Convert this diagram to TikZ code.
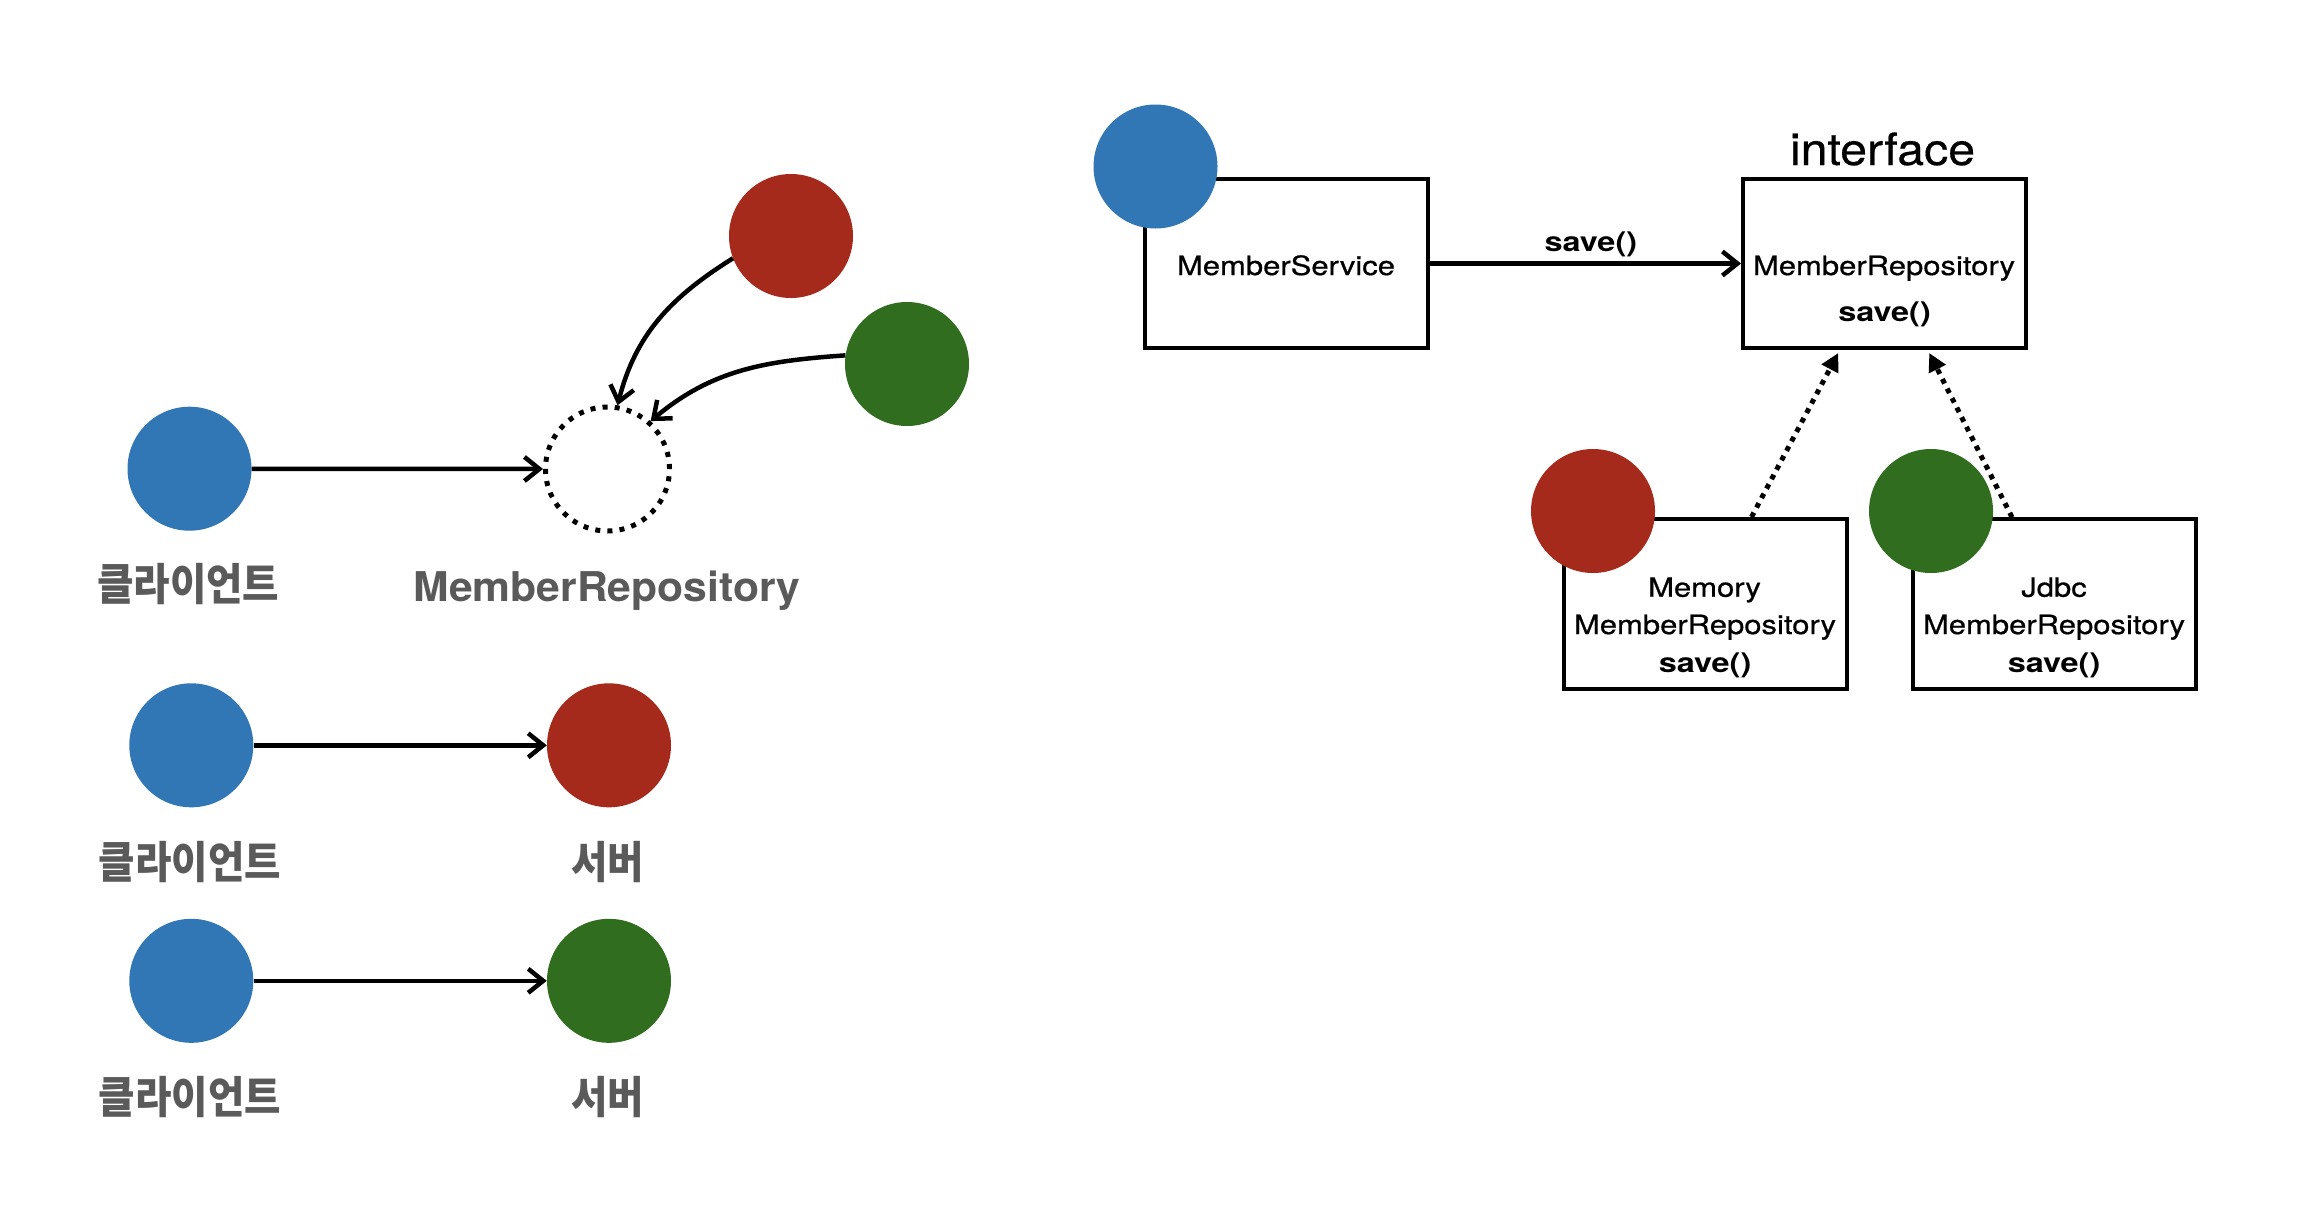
\documentclass[tikz,border=0pt]{standalone}
\usepackage{fontspec}
\setmainfont{TeX Gyre Heros}
\newfontfamily\boxfont[FakeStretch=1.17,FakeBold=0.7]{TeX Gyre Heros}
\newfontfamily\savefont[FakeStretch=1.2]{TeX Gyre Heros}
\newfontfamily\iffont[FakeStretch=1.085,FakeBold=0.4]{TeX Gyre Heros}
\newfontfamily\grayfont[FakeStretch=1.04]{TeX Gyre Heros}
\newfontfamily\cjk{Noto Sans CJK KR}
\usetikzlibrary{arrows.meta,calc}
\definecolor{cblue}{HTML}{3176B5}
\definecolor{cred}{HTML}{A62A1B}
\definecolor{cgreen}{HTML}{316D1F}
\definecolor{cgray}{HTML}{5A5A5A}
\begin{document}
\begin{tikzpicture}[x=1pt,y=1pt,
  ball/.style={circle,minimum size=124pt,inner sep=0pt,draw=none},
  conn/.style={line width=4.5pt,-{Straight Barb[length=15pt,width=24pt,line width=4.5pt]}},
  impl/.style={line width=5pt,dash pattern=on 5pt off 5.7pt,-{Triangle[length=18pt,width=18pt]}},
  box/.style={draw,line width=4pt,minimum width=283pt,minimum height=170pt,inner sep=0pt},
  txt/.style={inner sep=0pt,anchor=base,font=\boxfont\fontsize{26.5}{30}\selectfont},
  btxt/.style={inner sep=0pt,font=\savefont\fontsize{27}{30}\selectfont\bfseries},
  glabel/.style={inner sep=0pt,anchor=base,text=cgray,font=\grayfont\fontsize{41}{46}\selectfont\bfseries},
  klabel/.style={inner sep=0pt,text=cgray}
]
\useasboundingbox (0,0) rectangle (2320,-1208);
\newcommand{\kor}[1]{\scalebox{0.9}[1]{\fontsize{44}{48}\cjk\bfseries #1}}

% ---- left, row 1
\node[ball,fill=cblue] (c1) at (189.5,-468.7) {};
\node[circle,minimum size=124pt,inner sep=0pt,draw,line width=5pt,dash pattern=on 5pt off 7.17pt] (repo) at (607.5,-469) {};
\node[ball,fill=cred] (r1) at (791,-236) {};
\node[ball,fill=cgreen] (g1) at (907,-364) {};
\draw[conn] (c1) -- (repo);
\draw[conn] (r1.201) to[out=212,in=76] (repo.81);
\draw[conn] (g1.172) to[out=184,in=40] (repo.48);
\node[klabel] (k1) at (188.3,-584.2) {\kor{클라이언트}};
\node[glabel] (lrepo) at (607,-601.5) {MemberRepository};

% ---- left, row 2
\node[ball,fill=cblue] (c2) at (191.3,-745.3) {};
\node[ball,fill=cred] (r2) at (609,-745.3) {};
\draw[conn] (c2) -- (r2);
\node[klabel] (k2) at (190,-862) {\kor{클라이언트}};
\node[klabel] (s2) at (607.7,-862) {\kor{서버}};

% ---- left, row 3
\node[ball,fill=cblue] (c3) at (191.3,-980.8) {};
\node[ball,fill=cgreen] (g3) at (609,-980.8) {};
\draw[conn] (c3) -- (g3);
\node[klabel] (k3) at (190,-1096.7) {\kor{클라이언트}};
\node[klabel] (s3) at (607.7,-1096.7) {\kor{서버}};

% ---- right
\node[box,minimum height=169pt] (svc) at (1286.5,-263.5) {};
\node[box,minimum width=282.5pt,minimum height=169pt] (iface) at (1884.25,-263.5) {};
\node[box] (mem) at (1705.5,-604) {};
\node[box] (jdbc) at (2054,-604.25) {};

\node[ball,fill=cblue] (cs) at (1155.5,-166.5) {};
\node[ball,fill=cred] (cm) at (1593,-511) {};
\node[ball,fill=cgreen] (cj) at (1931,-511) {};

\node[txt] (tsvc) at (1286,-275) {MemberService};
\node[inner sep=0pt,anchor=base,font=\iffont\fontsize{44.5}{50}\selectfont] (tif) at (1882.5,-165) {interface};
\node[txt] (trepo) at (1884,-275) {MemberRepository};
\node[btxt] (tsave) at (1884.5,-314.3) {save()};

\node[txt] (tm1) at (1704.5,-596.7) {Memory};
\node[txt] (tm2) at (1705,-634) {MemberRepository};
\node[btxt] (tm3) at (1705,-665.7) {save()};
\node[txt] (tj1) at (2054,-596.7) {Jdbc};
\node[txt] (tj2) at (2054,-634) {MemberRepository};
\node[btxt] (tj3) at (2054,-665.7) {save()};

\draw[conn] (svc.east) -- node[btxt,pos=0.517,anchor=south,yshift=4.5pt] (lsave) {save()} (iface.west);
\draw[impl] ([xshift=46pt]mem.north) -- ([xshift=-46pt,yshift=-3pt]iface.south);
\draw[impl] ([xshift=-42pt]jdbc.north) -- ([xshift=45pt,yshift=-3pt]iface.south);
\end{tikzpicture}
\end{document}
